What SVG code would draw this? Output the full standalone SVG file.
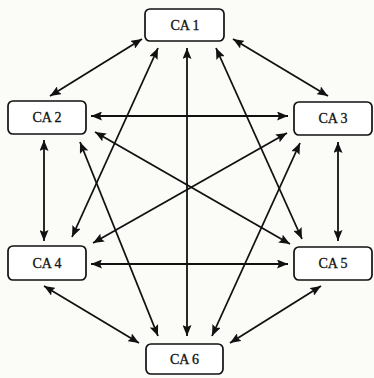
<svg xmlns="http://www.w3.org/2000/svg" width="374" height="378" viewBox="0 0 374 378">
<defs>
<marker id="ah" markerUnits="userSpaceOnUse" markerWidth="12" markerHeight="9" refX="11" refY="4.5" orient="auto-start-reverse">
<path d="M0,0 L11,4.5 L0,9 L2,4.5 z" fill="#111"/>
</marker>
<style>
.box{fill:#fff;stroke:#111;stroke-width:1.7}
.lbl{font-family:"Liberation Serif","Times New Roman",serif;font-size:14px;fill:#111;stroke:#111;stroke-width:0.3;text-anchor:middle;dominant-baseline:central}
.c line{stroke:#111;stroke-width:1.8;marker-start:url(#ah);marker-end:url(#ah)}
</style>
</defs>
<rect width="374" height="378" fill="#fbfbf8"/>
<g class="c" id="connectors">
<line x1="142" y1="39" x2="50" y2="96"/>
<line x1="233" y1="39" x2="328" y2="96"/>
<line x1="91" y1="116" x2="288" y2="116"/>
<line x1="44" y1="140" x2="44" y2="241"/>
<line x1="338" y1="142" x2="338" y2="241"/>
<line x1="91" y1="264" x2="288" y2="264"/>
<line x1="44" y1="286" x2="139" y2="343"/>
<line x1="321" y1="286" x2="230" y2="343"/>
<line x1="187" y1="48" x2="187" y2="336"/>
<line x1="158" y1="48" x2="72" y2="237"/>
<line x1="216" y1="48" x2="302" y2="239"/>
<line x1="80" y1="142" x2="158" y2="336"/>
<line x1="300" y1="143" x2="212" y2="336"/>
<line x1="95" y1="132" x2="290" y2="244"/>
<line x1="287" y1="133" x2="93" y2="243"/>
</g>
<g id="CA1"><rect class="box" x="145" y="9" width="79" height="32" rx="5"/><text class="lbl" x="185" y="25">CA 1</text></g>
<g id="CA2"><rect class="box" x="8" y="101" width="78" height="33" rx="5"/><text class="lbl" x="47" y="117.5">CA 2</text></g>
<g id="CA3"><rect class="box" x="294" y="102" width="78" height="33" rx="5"/><text class="lbl" x="333" y="118.5">CA 3</text></g>
<g id="CA4"><rect class="box" x="8" y="246" width="78" height="34" rx="5"/><text class="lbl" x="47" y="263">CA 4</text></g>
<g id="CA5"><rect class="box" x="294" y="247" width="78" height="33" rx="5"/><text class="lbl" x="333" y="263.5">CA 5</text></g>
<g id="CA6"><rect class="box" x="146" y="344" width="77" height="30" rx="5"/><text class="lbl" x="184.5" y="359">CA 6</text></g>
</svg>
